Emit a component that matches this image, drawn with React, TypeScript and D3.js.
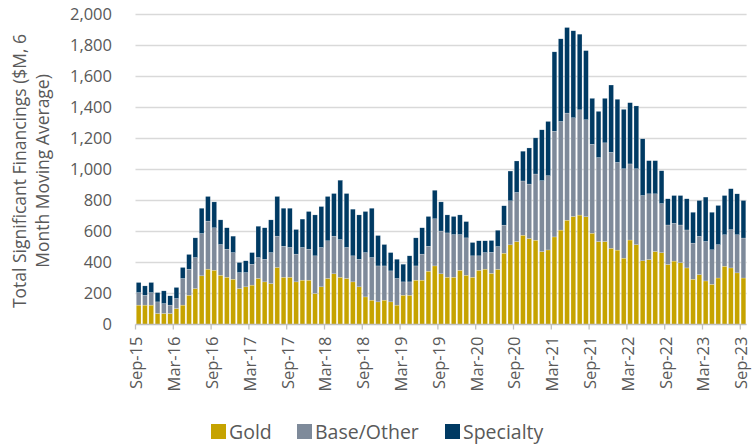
import React from "react";
import * as d3 from "d3";

const gold = [
  125, 125, 125, 71, 71, 71, 103, 125, 189, 232, 314, 357, 350, 318, 305, 292, 232, 243, 254, 297,
  275, 264, 368, 305, 305, 275, 286, 286, 200, 243, 297, 327, 305, 297, 275, 243, 178, 157, 146, 157,
  146, 125, 189, 189, 286, 286, 344, 378, 327, 305, 305, 350, 318, 305, 350, 357, 330, 356, 460, 514,
  535, 576, 555, 544, 470, 481, 565, 609, 673, 697, 706, 695, 589, 535, 535, 492, 480, 428, 545, 515,
  411, 419, 471, 463, 387, 409, 398, 365, 292, 322, 281, 259, 300, 376, 365, 333, 300,
];
const baseOther = [
  81, 64, 81, 75, 64, 54, 65, 172, 168, 200, 273, 310, 274, 198, 181, 172, 103, 92, 135, 135,
  146, 200, 202, 200, 192, 179, 211, 200, 243, 254, 243, 243, 243, 200, 168, 178, 286, 275, 232, 221,
  200, 172, 86, 86, 92, 168, 161, 304, 276, 286, 275, 230, 241, 138, 93, 107, 136, 147, 181, 284,
  317, 350, 351, 427, 458, 479, 682, 701, 691, 637, 679, 626, 574, 542, 637, 619, 566, 577, 491, 490,
  421, 424, 372, 317, 255, 244, 244, 245, 233, 247, 255, 223, 215, 203, 247, 246, 258,
];
const specialty = [
  65, 60, 65, 60, 82, 60, 71, 71, 95, 127, 163, 159, 167, 159, 138, 106, 65, 76, 75, 202,
  203, 211, 256, 245, 253, 159, 183, 243, 264, 264, 286, 275, 383, 348, 301, 286, 265, 318, 196, 138,
  118, 124, 114, 168, 181, 170, 192, 184, 188, 116, 117, 127, 105, 86, 97, 76, 76, 105, 125, 192,
  203, 192, 233, 233, 328, 350, 512, 533, 552, 561, 488, 446, 296, 298, 287, 434, 407, 383, 395, 405,
  366, 214, 214, 212, 169, 179, 190, 201, 199, 231, 286, 242, 253, 253, 264, 264, 242,
];

const categories: string[] = d3
  .timeMonth.range(new Date(2015, 8, 1), new Date(2023, 9, 1))
  .map((d) => d3.timeFormat("%b-%y")(d));

const tickLabels = [
  "Sep-15", "Mar-16", "Sep-16", "Mar-17", "Sep-17", "Mar-18", "Sep-18", "Mar-19", "Sep-19",
  "Mar-20", "Sep-20", "Mar-21", "Sep-21", "Mar-22", "Sep-22", "Mar-23", "Sep-23",
];
const yTicks = [0, 200, 400, 600, 800, 1000, 1200, 1400, 1600, 1800, 2000];

const seriesKeys = ["Gold", "Base/Other", "Specialty"];
const colors: Record<string, string> = {
  Gold: "#C6A300",
  "Base/Other": "#7E8A9A",
  Specialty: "#003A63",
};

const W = 754;
const H = 446;
const X0 = 135.5;
const X1 = 746.6;
const Y0 = 324.5;
const Y1 = 14.5;
const FONT = "'Open Sans', 'Noto Sans', sans-serif";
const TXT = "#595959";

export default function App() {
  const rows = categories.map((c, i) => ({
    cat: c,
    Gold: gold[i],
    "Base/Other": baseOther[i],
    Specialty: specialty[i],
  }));
  const x = d3
    .scaleBand<string>()
    .domain(categories)
    .range([X0, X1])
    .paddingInner(0.25)
    .paddingOuter(0.125);
  const y = d3.scaleLinear().domain([0, 2000]).range([Y0, Y1]);
  const stack = d3.stack<any>().keys(seriesKeys);
  const stacked = stack(rows);
  const step = x.step();
  const tickX = (c: string) => (x(c) as number) - (step * x.paddingInner()) / 2;

  const legend = [
    { key: "Gold", sx: 211, tx: 229 },
    { key: "Base/Other", sx: 297, tx: 315 },
    { key: "Specialty", sx: 445, tx: 463 },
  ];

  return (
    <svg
      width={W}
      height={H}
      style={{ position: "absolute", left: 0, top: 0, background: "#fff" }}
      fontFamily={FONT}
    >
      {yTicks
        .filter((t) => t > 0)
        .map((t) => (
          <line key={t} x1={X0} x2={X1} y1={y(t)} y2={y(t)} stroke="#D9D9D9" strokeWidth={1.3} />
        ))}
      {yTicks.map((t) => (
        <text
          key={"yl" + t}
          x={112}
          y={y(t)}
          dy="0.36em"
          textAnchor="end"
          fontSize={16.5}
          fill={TXT}
        >
          {d3.format(",")(t)}
        </text>
      ))}
      {stacked.map((s) => (
        <g key={s.key} fill={colors[s.key]}>
          {s.map((d, i) => (
            <rect
              key={i}
              x={x(categories[i])}
              width={x.bandwidth()}
              y={y(d[1])}
              height={Math.max(0, y(d[0]) - y(d[1]))}
              stroke="#ffffff"
              strokeOpacity={0.5}
              strokeWidth={0.4}
            />
          ))}
        </g>
      ))}
      <line x1={X0} x2={X1} y1={Y0} y2={Y0} stroke="#BFBFBF" strokeWidth={1.3} />
      {tickLabels.map((lab) => {
        const idx = categories.indexOf(lab);
        const tx = tickX(categories[idx]);
        return (
          <g key={lab}>
            <line x1={tx} x2={tx} y1={Y0} y2={Y0 + 5} stroke="#BFBFBF" strokeWidth={1.3} />
            <text
              transform={`translate(${tx + 1},${Y0 + 12}) rotate(-90)`}
              textAnchor="end"
              dy="0.36em"
              fontSize={16.5}
              fill={TXT}
            >
              {lab}
            </text>
          </g>
        );
      })}
      <text
        transform={`translate(20,171) rotate(-90)`}
        textAnchor="middle"
        dy="0.36em"
        fontSize={17.5}
        fill={TXT}
      >
        Total Significant Financings ($M, 6
      </text>
      <text
        transform={`translate(43,171) rotate(-90)`}
        textAnchor="middle"
        dy="0.36em"
        fontSize={17.5}
        fill={TXT}
      >
        Month Moving Average)
      </text>
      {legend.map((l) => (
        <g key={l.key}>
          <rect x={l.sx} y={424} width={15} height={15} fill={colors[l.key]} />
          <text x={l.tx} y={432} dy="0.36em" fontSize={19.5} fill={TXT}>
            {l.key}
          </text>
        </g>
      ))}
    </svg>
  );
}
